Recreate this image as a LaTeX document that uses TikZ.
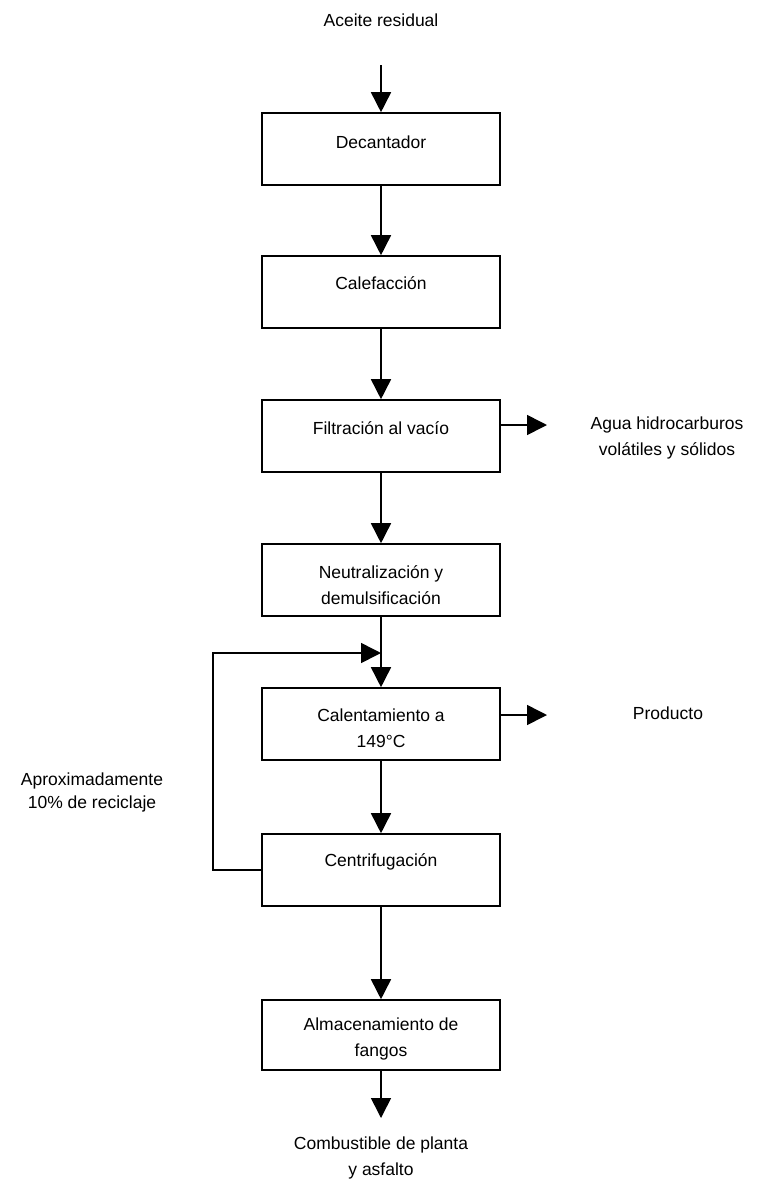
\documentclass[tikz,border=0pt]{standalone}
\usepackage{fontspec}
\setmainfont{Liberation Sans}
\usetikzlibrary{arrows.meta}
\begin{document}
\begin{tikzpicture}[x=1pt,y=-1pt,
  box/.style={draw, line width=1.6pt, minimum width=238pt, minimum height=72pt, inner sep=0pt},
  txt/.style={font=\fontsize{17.5}{26}\selectfont, align=center, inner sep=0pt},
  flow/.style={line width=1.6pt, -{Triangle[width=20pt,length=20pt]}},
  plain/.style={line width=1.6pt}]
\useasboundingbox (0,0) rectangle (759,1184);

% boxes
\node[box] (dec) at (381,149) {};
\node[box] (cal) at (381,292) {};
\node[box] (fil) at (381,436) {};
\node[box] (neu) at (381,580) {};
\node[box] (hea) at (381,724) {};
\node[box] (cen) at (381,870) {};
\node[box, minimum height=70pt] (alm) at (381,1035) {};

% box texts
\node[txt] (decT) at (381,142) {Decantador};
\node[txt] (calT) at (381,283) {Calefacción};
\node[txt] (filT) at (381,428) {Filtración al vacío};
\node[txt] (neuT) at (381,585) {Neutralización y\\demulsificación};
\node[txt] (heaT) at (381,728) {Calentamiento a\\149°C};
\node[txt] (cenT) at (381,862) {Centrifugación};
\node[txt] (almT) at (381,1039) {Almacenamiento de\\fangos};

% outer texts
\node[txt] (inT) at (381,20) {Aceite residual};
\node[txt] (aguaT) at (667,438) {Agua hidrocarburos\\volátiles y sólidos};
\node[txt] (prodT) at (668,713) {Producto};
\node[txt, font=\fontsize{17.5}{23}\selectfont] (recT) at (92,792) {Aproximadamente\\10\% de reciclaje};
\node[txt] (outT) at (381,1158) {Combustible de planta\\y asfalto};

% coordinates
\coordinate (inS) at (381,65);
\coordinate (outE) at (381,1118);
\coordinate (aguaE) at (547,425);
\coordinate (prodE) at (547,715);
\coordinate (join) at (381,653);
\coordinate (recL) at (213,870);

% connectors
\draw[flow] (inS) -- (dec.north);
\draw[flow] (dec.south) -- (cal.north);
\draw[flow] (cal.south) -- (fil.north);
\draw[flow] (fil.south) -- (neu.north);
\draw[flow] (neu.south) -- (hea.north);
\draw[flow] (hea.south) -- (cen.north);
\draw[flow] (cen.south) -- (alm.north);
\draw[flow] (alm.south) -- (outE);
\draw[flow] (fil.east |- aguaE) -- (aguaE);
\draw[flow] (hea.east |- prodE) -- (prodE);
\draw[flow] (cen.west) -- (recL) |- (join);
\end{tikzpicture}
\end{document}
